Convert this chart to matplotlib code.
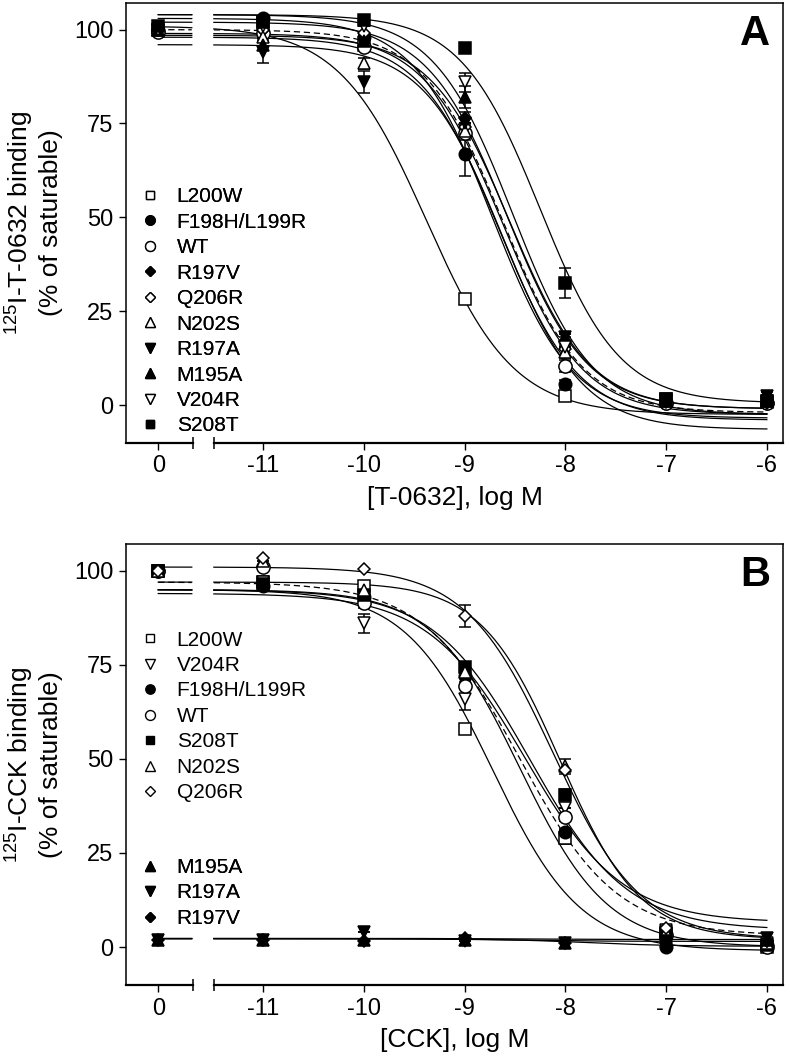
"""
Competition binding curves for CCK receptor mutants (T-0632 and CCK)
"""
import matplotlib

matplotlib.use("Agg")
import matplotlib.pyplot as plt
import numpy as np
from matplotlib.lines import Line2D
from matplotlib.transforms import blended_transform_factory

plt.rcParams["font.family"] = ["Liberation Sans", "DejaVu Sans"]
plt.rcParams["mathtext.fontset"] = "custom"
plt.rcParams["mathtext.rm"] = "Liberation Sans"
plt.rcParams["mathtext.default"] = "regular"

# log concentration of competitor; "0" = no competitor
log_dose = [-11, -10, -9, -8, -7, -6]
x_tick_labels = ["0", "-11", "-10", "-9", "-8", "-7", "-6"]
y_ticks = [0, 25, 50, 75, 100]

# ---- panel A: T-0632 ----
names_a = ["L200W", "F198H/L199R", "WT", "R197V", "Q206R",
           "N202S", "R197A", "M195A", "V204R", "S208T"]
ctrl_a = [100, 100, 99.5, 100, 100, 100, 100, 100, 100, 101]
binding_a = [
    [102, 96, 28.3, 2.4, 1.5, 0.7],
    [103, 98, 67, 5.6, 0.5, 0.5],
    [99, 95.5, 72.5, 10.4, 0.5, 0.5],
    [100, 98, 76.5, 17, 0.8, 0.8],
    [100, 99, 74, 15, 1, 0.5],
    [98, 91, 73, 14, 1, 1],
    [94, 86, 75, 18, 1, 2.5],
    [96, 97, 82, 18, 1, 1.5],
    [101, 101, 86, 15.5, 1, 1],
    [102, 102.5, 95, 32.5, 1.5, 1],
]
err_a = [
    [0, 0, 0, 0, 0, 0],
    [0, 0, 6, 1, 0, 0],
    [1, 1, 2, 1.5, 0, 0],
    [0, 0, 1.5, 1, 0, 0],
    [0, 0, 0, 0, 0, 0],
    [0, 1.5, 0, 1.5, 0, 0],
    [3, 3, 0, 1, 0, 1],
    [1.5, 0, 3, 1, 0, 0],
    [0, 0, 2.5, 0, 0, 0],
    [0, 0, 0, 4, 0, 0],
]
# fitted one-site curves: top, bottom, logIC50, hill slope
top_a = [101, 103, 100, 102, 99, 98, 96, 98.5, 104, 104]
bottom_a = [-2.5, -3.5, -2, -1, -2.5, -4, -6.5, -1, -2.5, 0.5]
logic50_a = [-9.38, -8.72, -8.62, -8.58, -8.62, -8.66, -8.62, -8.55, -8.52, -8.25]
hill_a = [1.0, 1.1, 1.1, 1.1, 1.1, 1.1, 1.1, 1.1, 1.1, 1.1]

# ---- panel B: CCK ----
names_b = ["L200W", "V204R", "F198H/L199R", "WT", "S208T", "N202S", "Q206R",
           "M195A", "R197A", "R197V"]
ctrl_b = [100, 100, 100, 100, 100, 100, 100, 2, 2, 2]
binding_b = [
    [97, 96, 58, 29, 4, 0],
    [97, 86, 66, 37, 4.5, 1],
    [96, 93, 72, 30.5, 0, 0.5],
    [101, 91.5, 69.5, 34.5, 3.2, 0],
    [96.5, 93.5, 74.5, 40.5, 3.5, 0.5],
    [102.5, 95, 73, 48, 4, 1],
    [103.5, 100.5, 88, 47, 5, 1.5],
    [2, 2, 2, 1.2, 1.5, 2],
    [2, 4, 1.5, 1, 1.5, 2.5],
    [1.8, 1.5, 2.5, 1, 1, 1.5],
]
err_b = [
    [0, 0, 0, 1.5, 0, 0],
    [0, 2.5, 3, 0, 0, 0],
    [0, 0, 0, 1, 0, 0],
    [0, 1.5, 1, 1, 0, 0],
    [0, 0, 0, 1.5, 0, 0],
    [0, 0, 0, 2, 0, 0],
    [0, 0, 3, 0, 0, 0],
    [0, 0, 0, 0, 0, 0],
    [0, 0, 0, 0, 0, 0],
    [0, 0, 0, 0, 0, 0],
]
top_b = [95, 94, 95, 97, 95, 97, 101, 2.2, 2.3, 2.2]
bottom_b = [-1, 6.5, 0, 3, 4.5, 2, 2, 1.5, 2.0, 0.2]
logic50_b = [-8.72, -8.40, -8.45, -8.45, -8.35, -8.05, -8.12, -8.5, -8.5, -7.8]
hill_b = [1.0, 0.9, 1.0, 0.9, 0.9, 1.1, 1.0, 1.0, 1.0, 1.0]

# marker style per mutant: (marker, filled, size)
styles = {
    "L200W": ("s", False, 8.5),
    "F198H/L199R": ("o", True, 9),
    "WT": ("o", False, 9.5),
    "R197V": ("D", True, 6.5),
    "Q206R": ("D", False, 6.5),
    "N202S": ("^", False, 9),
    "R197A": ("v", True, 9),
    "M195A": ("^", True, 9),
    "V204R": ("v", False, 9),
    "S208T": ("s", True, 8.5),
}

# layout of the broken x axis
CTRL_POS = -12.04
BREAK_L, BREAK_R = -11.70, -11.49
X_LIM = (-12.36, -5.84)
Y_LIM = (-10.1, 107.1)


def sigmoid(x: np.ndarray, top: float, bottom: float, c: float, h: float) -> np.ndarray:
    return bottom + (top - bottom) / (1 + 10 ** (h * (x - c)))


def plot_panel(ax, names, ctrl, binding, err, top, bottom, logic50, hill,
               xlabel, ylabel, letter, legend_groups) -> None:
    xs = np.linspace(CTRL_POS, -6, 800)
    gap = (xs > BREAK_L) & (xs < BREAK_R)
    for i, name in enumerate(names):
        ys = sigmoid(xs, top[i], bottom[i], logic50[i], hill[i])
        ys[gap] = np.nan
        ax.plot(xs, ys, color="black", lw=0.9,
                ls=(0, (5, 3)) if name == "WT" else "-", zorder=2)
    for i, name in enumerate(names):
        m, filled, ms = styles[name]
        x = [CTRL_POS] + log_dose
        y = [ctrl[i]] + binding[i]
        e = [0] + err[i]
        ax.errorbar(x, y, yerr=e, fmt=m, ms=ms, mfc="black" if filled else "white",
                    mec="black", mew=1.1, ecolor="black", elinewidth=1.1,
                    capsize=4.5, capthick=1.1, zorder=3, clip_on=False)

    ax.set_xlim(*X_LIM)
    ax.set_ylim(*Y_LIM)
    ax.set_xticks([CTRL_POS] + log_dose)
    ax.set_xticklabels(x_tick_labels)
    ax.set_yticks(y_ticks)
    ax.tick_params(direction="out", length=5, width=1.0, labelsize=17, pad=4)
    for s in ax.spines.values():
        s.set_linewidth(1.1)
    # broken bottom axis
    ax.spines["bottom"].set_visible(False)
    tr = blended_transform_factory(ax.transData, ax.transAxes)
    ax.plot([X_LIM[0], BREAK_L], [0, 0], color="black", lw=1.6, transform=tr, clip_on=False)
    ax.plot([BREAK_R, X_LIM[1]], [0, 0], color="black", lw=1.6, transform=tr, clip_on=False)
    ax.plot([BREAK_L, BREAK_R], [0, 0], ls="none", marker="|", ms=8, mew=1.1,
            color="black", transform=tr, clip_on=False)

    ax.set_xlabel(xlabel, fontsize=19, labelpad=6)
    ax.set_ylabel(ylabel, fontsize=19, labelpad=8, linespacing=1.15)
    ax.text(0.98, 0.975, letter, transform=ax.transAxes, ha="right", va="top",
            fontsize=30, fontweight="bold")

    for group, anchor in legend_groups:
        handles = []
        for name in group:
            m, filled, ms = styles[name]
            handles.append(Line2D([], [], ls="none", marker=m, ms=ms * 0.75,
                                  mfc="black" if filled else "white", mec="black", mew=1.0))
        leg = ax.legend(handles, group, loc="upper left", bbox_to_anchor=anchor,
                        frameon=False, fontsize=15, handlelength=1.0, handletextpad=0.8,
                        labelspacing=0.31, borderaxespad=0, borderpad=0)
        ax.add_artist(leg)


fig = plt.figure(figsize=(7.9, 10.61), dpi=100)
ax_a = fig.add_axes([0.1595, 0.5825, 0.8316, 0.4147])
ax_b = fig.add_axes([0.1595, 0.0716, 0.8316, 0.4156])

plot_panel(ax_a, names_a, ctrl_a, binding_a, err_a, top_a, bottom_a, logic50_a, hill_a,
           "[T-0632], log M", "$^{125}$I-T-0632 binding\n(% of saturable)", "A",
           [(names_a, (0.02, 0.581))])
plot_panel(ax_b, names_b, ctrl_b, binding_b, err_b, top_b, bottom_b, logic50_b, hill_b,
           "[CCK], log M", "$^{125}$I-CCK binding\n(% of saturable)", "B",
           [(names_b[:7], (0.02, 0.804)), (names_b[7:], (0.02, 0.288))])

fig.savefig("out.png", dpi=100)
